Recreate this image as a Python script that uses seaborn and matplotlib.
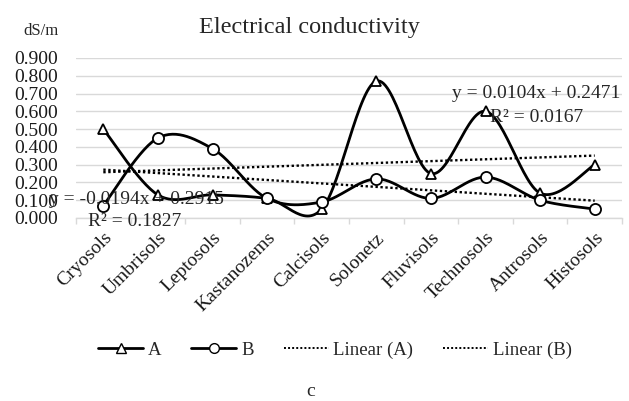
import numpy as np
import pandas as pd
import matplotlib
matplotlib.use("Agg")
import matplotlib.pyplot as plt
import seaborn as sns

categories = ["Cryosols", "Umbrisols", "Leptosols", "Kastanozems", "Calcisols",
              "Solonetz", "Fluvisols", "Technosols", "Antrosols", "Histosols"]
series_a = [0.50, 0.13, 0.13, 0.11, 0.05, 0.77, 0.25, 0.60, 0.14, 0.30]
series_b = [0.07, 0.45, 0.39, 0.11, 0.09, 0.22, 0.11, 0.23, 0.10, 0.05]
trend_a = (0.0104, 0.2471)   # slope, intercept (x = 1..n)
trend_b = (-0.0194, 0.2915)
eq_a = ["y = 0.0104x + 0.2471", "R² = 0.0167"]
eq_b = ["y = -0.0194x + 0.2915", "R² = 0.1827"]
y_ticks = [0.0, 0.1, 0.2, 0.3, 0.4, 0.5, 0.6, 0.7, 0.8, 0.9]

sns.set_theme(style="white")
plt.rcParams["font.family"] = ["Liberation Serif", "DejaVu Serif"]

W, H = 629, 401
fig = plt.figure(figsize=(W / 100, H / 100), dpi=100)
ax = fig.add_axes([76 / W, 1 - 218 / H, 546 / W, 160 / H])


def smooth(xs, ys, n=30):
    """Catmull-Rom style smoothing (as Excel's smoothed line) for drawing."""
    xs = np.asarray(xs, float)
    ys = np.asarray(ys, float)
    P = np.column_stack([xs, ys])
    P = np.vstack([P[0], P, P[-1]])
    out = []
    for i in range(1, len(P) - 2):
        p0, p1, p2, p3 = P[i - 1], P[i], P[i + 1], P[i + 2]
        c1 = p1 + (p2 - p0) / 6
        c2 = p2 - (p3 - p1) / 6
        t = np.linspace(0, 1, n, endpoint=(i == len(P) - 3))[:, None]
        seg = ((1 - t) ** 3) * p1 + 3 * ((1 - t) ** 2) * t * c1 + 3 * (1 - t) * t ** 2 * c2 + t ** 3 * p2
        out.append(seg)
    out = np.vstack(out)
    return out[:, 0], out[:, 1]


xpos = np.arange(len(categories))
df = pd.DataFrame({"x": xpos, "A": series_a, "B": series_b})

for col, mk, ms in [("A", "^", 7.5), ("B", "o", 8)]:
    sx, sy = smooth(df["x"], df[col])
    sdf = pd.DataFrame({"x": sx, "y": sy})
    sns.lineplot(data=sdf, x="x", y="y", ax=ax, color="black", lw=2.0,
                 sort=False, estimator=None, zorder=3)
    ax.plot(df["x"], df[col], linestyle="none", marker=mk, ms=ms,
            mfc="white", mec="black", mew=1.3, zorder=4)

for (m, b) in [trend_a, trend_b]:
    tdf = pd.DataFrame({"x": xpos, "y": m * (xpos + 1) + b})
    sns.lineplot(data=tdf, x="x", y="y", ax=ax, color="black", lw=1.7,
                 linestyle=(0, (1, 1.1)), zorder=2)

ax.set_xlim(-0.5, len(categories) - 0.5)
ax.set_ylim(0, 0.9)
ax.set_yticks(y_ticks)
ax.set_yticklabels([f"{v:.3f}" for v in y_ticks], fontsize=14,
                   color="#1a1a1a")
ax.yaxis.grid(True, color="#d9d9d9", lw=1)
ax.tick_params(axis="y", length=0, pad=13)
ax.set_xticks(xpos)
ax.set_xticklabels(categories, rotation=45, ha="right", va="top",
                   rotation_mode="anchor", fontsize=14, color="#1a1a1a")
ax.set_xticks(np.arange(-0.5, len(categories)), minor=True)
ax.tick_params(axis="x", which="major", length=0, pad=8)
ax.tick_params(axis="x", which="minor", length=4, width=1, color="#d9d9d9",
               bottom=True)
for s in ["top", "right", "left"]:
    ax.spines[s].set_visible(False)
ax.spines["bottom"].set_color("#d9d9d9")
ax.spines["bottom"].set_linewidth(1)
ax.set_xlabel("")
ax.set_ylabel("")

fig.text(309 / W, 1 - 28 / H, "Electrical conductivity", ha="center",
         va="center", fontsize=17.5, color="#262626")
fig.text(41 / W, 1 - 31 / H, "dS/m", ha="center", va="center",
         fontsize=12, color="#262626")

fig.text(536 / W, 1 - 94 / H, eq_a[0], ha="center", va="center", fontsize=14,
         color="#262626", zorder=5)
fig.text(537 / W, 1 - 118 / H, eq_a[1], ha="center", va="center", fontsize=14,
         color="#262626", zorder=5)
fig.text(136 / W, 1 - 200 / H, eq_b[0], ha="center", va="center", fontsize=14,
         color="#262626", zorder=5)
fig.text(135 / W, 1 - 221 / H, eq_b[1], ha="center", va="center", fontsize=14,
         color="#262626", zorder=5)

from matplotlib.lines import Line2D
handles = [
    Line2D([], [], color="black", lw=2, marker="^", ms=7, mfc="white", mec="black"),
    Line2D([], [], color="black", lw=2, marker="o", ms=7, mfc="white", mec="black"),
    Line2D([], [], color="black", lw=1.4, linestyle=(0, (1, 1.1))),
    Line2D([], [], color="black", lw=1.4, linestyle=(0, (1, 1.1))),
]
fig.legend(handles, ["A", "B", "Linear (A)", "Linear (B)"], loc="center",
           bbox_to_anchor=(335 / W, 1 - 350 / H), ncol=4, frameon=False,
           fontsize=13.5, handlelength=2.4, handletextpad=0.25,
           columnspacing=1.6, labelcolor="#262626")

fig.text(311 / W, 1 - 391 / H, "c", ha="center", va="center", fontsize=14,
         color="#262626")

fig.savefig("out.png", dpi=100)
